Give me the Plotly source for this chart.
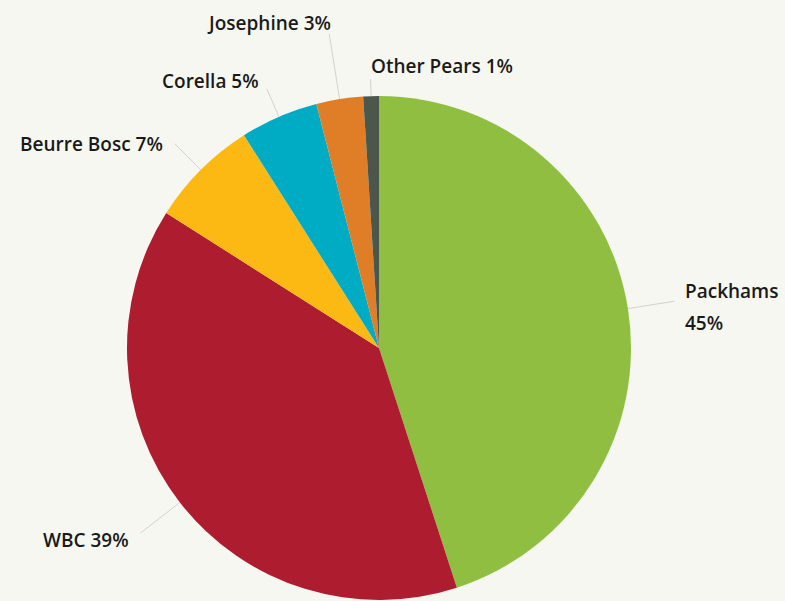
import math
import plotly.graph_objects as go

# ---- data ----
varieties = ["Packhams", "WBC", "Beurre Bosc", "Corella", "Josephine", "Other Pears"]
shares = [45, 39, 7, 5, 3, 1]

# ---- styles ----
colors = ["#8fbe41", "#ae1c30", "#fdb913", "#00abc4", "#e07e27", "#4b564d"]
BG = "#f6f7f0"
W, H = 785, 601
CX, CY, R = 379, 348, 252
# leader length (px), text anchor, text offset dx, dy (px, screen coords) per slice
leader_len = [47, 50, 37, 30, 66, 17]
label_anchor = ["left", "right", "right", "right", "right", "left"]
label_dx = [9, -9, -10, -6, 4, -2]
label_dy = [-10, 7, 0, -8, -11, -13]
FONT = dict(family="'Open Sans', Lato, sans-serif", size=19, color="#1a1a1a", weight=600)

fig = go.Figure()
fig.add_trace(go.Pie(
    labels=varieties,
    values=shares,
    sort=False,
    direction="clockwise",
    rotation=0,
    marker=dict(colors=colors, line=dict(width=0)),
    textinfo="none",
    hoverinfo="label+percent",
    showlegend=False,
    domain=dict(x=[(CX - R) / W, (CX + R) / W], y=[(H - CY - R) / H, (H - CY + R) / H]),
))

total = sum(shares)
cum = 0.0
shapes = []
annotations = []
for i, (name, v) in enumerate(zip(varieties, shares)):
    mid = (cum + v / 2) / total
    cum += v
    ang = mid * 2 * math.pi
    sx, sy = math.sin(ang), -math.cos(ang)
    x0, y0 = CX + R * sx, CY + R * sy
    x1, y1 = CX + (R + leader_len[i]) * sx, CY + (R + leader_len[i]) * sy
    shapes.append(dict(type="line", xref="paper", yref="paper",
                       x0=x0 / W, y0=1 - y0 / H, x1=x1 / W, y1=1 - y1 / H,
                       line=dict(color="#d2d2d2", width=1)))
    pct = f"{round(100 * v / total)}%"
    tx = x1 + label_dx[i]
    ty = y1 + label_dy[i]
    if name == "Packhams":
        lines = [name, pct]
        gap = 32
    else:
        lines = [f"{name} {pct}"]
        gap = 0
    for k, t in enumerate(lines):
        annotations.append(dict(
            text=t, showarrow=False, xref="paper", yref="paper",
            x=tx / W, y=1 - (ty + k * gap) / H,
            xanchor=label_anchor[i], yanchor="middle", font=FONT))

fig.update_layout(
    width=W, height=H,
    margin=dict(l=0, r=0, t=0, b=0),
    paper_bgcolor=BG, plot_bgcolor=BG,
    shapes=shapes, annotations=annotations,
    showlegend=False,
)
fig.write_html(
    "out.html",
    config={"displayModeBar": False},
    post_script="document.body.style.margin='0';document.body.style.background='" + BG + "';",
)
